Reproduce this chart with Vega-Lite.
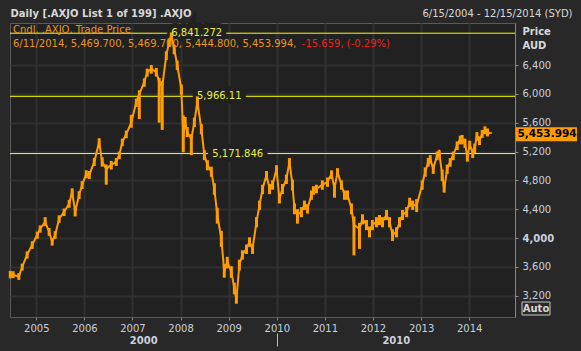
{
  "$schema": "https://vega.github.io/schema/vega-lite/v6.json",
  "width": 505,
  "height": 294,
  "autosize": {"type": "none"},
  "padding": {"left": 10, "top": 23, "right": 66, "bottom": 34},
  "background": "#282828",
  "config": {
    "view": {"fill": "#212121", "stroke": "#5a5a5a", "strokeWidth": 1},
    "font": "DejaVu Sans",
    "axis": {"labelFont": "DejaVu Sans", "labelFontSize": 10, "labelColor": "#c9d1de", "titleFont": "DejaVu Sans", "titleFontSize": 10}
  },
  "datasets": {
    "prices": [
      {"date":"2004-06-17","close":3500,"low":3440,"high":3545},
      {"date":"2004-07-09","close":3490,"low":3445,"high":3540},
      {"date":"2004-08-21","close":3464,"low":3420,"high":3515},
      {"date":"2004-09-16","close":3602,"low":3550,"high":3645},
      {"date":"2004-10-23","close":3770,"low":3715,"high":3815},
      {"date":"2004-12-01","close":3907,"low":3850,"high":3955},
      {"date":"2005-01-08","close":4045,"low":3990,"high":4090},
      {"date":"2005-01-30","close":4130,"low":4075,"high":4175},
      {"date":"2005-03-09","close":4225,"low":4165,"high":4290},
      {"date":"2005-04-08","close":4087,"low":4030,"high":4140},
      {"date":"2005-05-01","close":3949,"low":3895,"high":4000},
      {"date":"2005-05-24","close":4045,"low":3990,"high":4095},
      {"date":"2005-06-23","close":4267,"low":4210,"high":4315},
      {"date":"2005-07-31","close":4364,"low":4305,"high":4410},
      {"date":"2005-09-07","close":4475,"low":4420,"high":4530},
      {"date":"2005-09-30","close":4641,"low":4580,"high":4690},
      {"date":"2005-10-23","close":4364,"low":4300,"high":4420},
      {"date":"2005-11-22","close":4600,"low":4540,"high":4650},
      {"date":"2005-12-15","close":4738,"low":4680,"high":4790},
      {"date":"2006-01-15","close":4890,"low":4830,"high":4940},
      {"date":"2006-02-07","close":4876,"low":4820,"high":4930},
      {"date":"2006-03-17","close":5057,"low":5000,"high":5110},
      {"date":"2006-04-23","close":5333,"low":5270,"high":5385},
      {"date":"2006-05-16","close":5057,"low":4990,"high":5120},
      {"date":"2006-06-16","close":4960,"low":4740,"high":5020},
      {"date":"2006-07-24","close":5015,"low":4950,"high":5070},
      {"date":"2006-08-31","close":5057,"low":5000,"high":5110},
      {"date":"2006-09-23","close":5153,"low":5095,"high":5200},
      {"date":"2006-10-16","close":5333,"low":5275,"high":5380},
      {"date":"2006-11-15","close":5444,"low":5385,"high":5490},
      {"date":"2006-12-23","close":5600,"low":5530,"high":5710},
      {"date":"2007-01-30","close":5887,"low":5820,"high":5935},
      {"date":"2007-02-22","close":5998,"low":5650,"high":6050},
      {"date":"2007-04-01","close":6165,"low":6100,"high":6215},
      {"date":"2007-04-23","close":6303,"low":6240,"high":6350},
      {"date":"2007-05-24","close":6345,"low":6280,"high":6400},
      {"date":"2007-07-01","close":6303,"low":6240,"high":6360},
      {"date":"2007-07-23","close":6168,"low":5600,"high":6220},
      {"date":"2007-08-15","close":6100,"low":5500,"high":6180},
      {"date":"2007-09-15","close":6538,"low":6470,"high":6590},
      {"date":"2007-10-07","close":6718,"low":6650,"high":6770},
      {"date":"2007-10-23","close":6815,"low":6740,"high":6851},
      {"date":"2007-11-14","close":6622,"low":6550,"high":6680},
      {"date":"2007-12-07","close":6400,"low":6330,"high":6460},
      {"date":"2008-01-07","close":6068,"low":5990,"high":6130},
      {"date":"2008-01-22","close":5400,"low":5190,"high":5700},
      {"date":"2008-02-05","close":5610,"low":5520,"high":5680},
      {"date":"2008-02-21","close":5472,"low":5400,"high":5540},
      {"date":"2008-03-23","close":5375,"low":5150,"high":5440},
      {"date":"2008-04-15","close":5610,"low":5540,"high":5670},
      {"date":"2008-05-08","close":5887,"low":5800,"high":5966},
      {"date":"2008-06-07","close":5514,"low":5440,"high":5580},
      {"date":"2008-06-30","close":5153,"low":5080,"high":5220},
      {"date":"2008-07-23","close":5015,"low":4940,"high":5080},
      {"date":"2008-08-22","close":4918,"low":4850,"high":4990},
      {"date":"2008-09-14","close":4683,"low":4600,"high":4760},
      {"date":"2008-10-06","close":4323,"low":4200,"high":4420},
      {"date":"2008-11-06","close":3990,"low":3880,"high":4100},
      {"date":"2008-11-28","close":3533,"low":3450,"high":3640},
      {"date":"2008-12-21","close":3672,"low":3580,"high":3740},
      {"date":"2009-01-21","close":3533,"low":3450,"high":3610},
      {"date":"2009-02-13","close":3298,"low":3220,"high":3380},
      {"date":"2009-02-28","close":3150,"low":3089,"high":3250},
      {"date":"2009-03-23","close":3630,"low":3550,"high":3700},
      {"date":"2009-04-15","close":3770,"low":3700,"high":3830},
      {"date":"2009-05-16","close":3852,"low":3780,"high":3910},
      {"date":"2009-06-08","close":3949,"low":3880,"high":4010},
      {"date":"2009-07-01","close":3852,"low":3780,"high":3910},
      {"date":"2009-07-31","close":4225,"low":4150,"high":4290},
      {"date":"2009-08-23","close":4461,"low":4390,"high":4520},
      {"date":"2009-09-15","close":4683,"low":4610,"high":4740},
      {"date":"2009-10-15","close":4876,"low":4800,"high":4930},
      {"date":"2009-11-07","close":4683,"low":4610,"high":4750},
      {"date":"2009-11-30","close":4738,"low":4670,"high":4800},
      {"date":"2009-12-30","close":4960,"low":4890,"high":5010},
      {"date":"2010-01-21","close":4544,"low":4480,"high":4620},
      {"date":"2010-02-13","close":4683,"low":4610,"high":4750},
      {"date":"2010-03-15","close":4821,"low":4750,"high":4880},
      {"date":"2010-04-07","close":5057,"low":4980,"high":5110},
      {"date":"2010-04-30","close":4738,"low":4660,"high":4810},
      {"date":"2010-05-15","close":4406,"low":4330,"high":4480},
      {"date":"2010-06-07","close":4323,"low":4200,"high":4400},
      {"date":"2010-07-07","close":4364,"low":4290,"high":4430},
      {"date":"2010-07-30","close":4461,"low":4390,"high":4520},
      {"date":"2010-08-22","close":4406,"low":4340,"high":4470},
      {"date":"2010-09-21","close":4600,"low":4530,"high":4660},
      {"date":"2010-10-06","close":4669,"low":4600,"high":4720},
      {"date":"2010-10-29","close":4683,"low":4620,"high":4740},
      {"date":"2010-12-13","close":4738,"low":4670,"high":4800},
      {"date":"2011-01-21","close":4780,"low":4710,"high":4840},
      {"date":"2011-02-21","close":4890,"low":4820,"high":4940},
      {"date":"2011-03-15","close":4683,"low":4560,"high":4760},
      {"date":"2011-04-07","close":4918,"low":4850,"high":4970},
      {"date":"2011-05-07","close":4738,"low":4670,"high":4800},
      {"date":"2011-05-30","close":4600,"low":4530,"high":4660},
      {"date":"2011-06-22","close":4600,"low":4530,"high":4660},
      {"date":"2011-07-22","close":4406,"low":4330,"high":4480},
      {"date":"2011-08-10","close":4184,"low":3760,"high":4300},
      {"date":"2011-09-21","close":4129,"low":3850,"high":4210},
      {"date":"2011-10-14","close":4267,"low":4190,"high":4330},
      {"date":"2011-11-13","close":4184,"low":4110,"high":4250},
      {"date":"2011-12-06","close":4087,"low":4010,"high":4160},
      {"date":"2011-12-28","close":4184,"low":4110,"high":4250},
      {"date":"2012-01-28","close":4225,"low":4150,"high":4290},
      {"date":"2012-02-20","close":4253,"low":4180,"high":4320},
      {"date":"2012-03-14","close":4225,"low":4150,"high":4290},
      {"date":"2012-04-13","close":4323,"low":4250,"high":4390},
      {"date":"2012-05-06","close":4225,"low":4150,"high":4290},
      {"date":"2012-05-29","close":4045,"low":3960,"high":4120},
      {"date":"2012-06-28","close":4087,"low":4010,"high":4150},
      {"date":"2012-07-21","close":4225,"low":4150,"high":4290},
      {"date":"2012-08-13","close":4323,"low":4250,"high":4390},
      {"date":"2012-09-13","close":4364,"low":4290,"high":4430},
      {"date":"2012-10-06","close":4503,"low":4430,"high":4560},
      {"date":"2012-10-29","close":4461,"low":4390,"high":4520},
      {"date":"2012-11-28","close":4450,"low":4360,"high":4540},
      {"date":"2013-01-09","close":4738,"low":4670,"high":4800},
      {"date":"2013-02-01","close":4918,"low":4850,"high":4980},
      {"date":"2013-02-24","close":5057,"low":4990,"high":5110},
      {"date":"2013-03-11","close":5098,"low":5030,"high":5150},
      {"date":"2013-04-03","close":4960,"low":4890,"high":5020},
      {"date":"2013-05-03","close":5153,"low":5080,"high":5200},
      {"date":"2013-05-18","close":5195,"low":5120,"high":5220},
      {"date":"2013-06-10","close":4876,"low":4790,"high":4950},
      {"date":"2013-06-25","close":4683,"low":4630,"high":4760},
      {"date":"2013-07-18","close":4960,"low":4890,"high":5020},
      {"date":"2013-08-10","close":5057,"low":4990,"high":5110},
      {"date":"2013-09-02","close":5153,"low":5080,"high":5200},
      {"date":"2013-10-02","close":5292,"low":5220,"high":5340},
      {"date":"2013-10-25","close":5375,"low":5300,"high":5420},
      {"date":"2013-11-09","close":5375,"low":5300,"high":5430},
      {"date":"2013-11-30","close":5320,"low":5250,"high":5380},
      {"date":"2013-12-18","close":5120,"low":5060,"high":5190},
      {"date":"2014-01-05","close":5300,"low":5230,"high":5350},
      {"date":"2014-01-28","close":5180,"low":5110,"high":5240},
      {"date":"2014-02-12","close":5250,"low":5180,"high":5310},
      {"date":"2014-03-01","close":5420,"low":5350,"high":5470},
      {"date":"2014-03-20","close":5350,"low":5290,"high":5410},
      {"date":"2014-04-10","close":5450,"low":5390,"high":5500},
      {"date":"2014-05-01","close":5500,"low":5440,"high":5550},
      {"date":"2014-05-20","close":5470,"low":5410,"high":5520},
      {"date":"2014-06-11","close":5453.994,"low":5444.8,"high":5469.7}
    ],
    "levels": [
      {"level": 6841.272, "label": "6,841.272", "date": "2007-10-23"},
      {"level": 5966.11, "label": "5,966.11", "date": "2008-05-05"},
      {"level": 5171.846, "label": "5,171.846", "date": "2008-08-29"}
    ],
    "notes": [
      {"text": "Cndl, .AXJO, Trade Price", "date": "2004-06-15", "price": 6885, "kind": "legend"},
      {"text": "6/11/2014, 5,469.700, 5,469.700, 5,444.800, 5,453.994,", "date": "2004-06-15", "price": 6691, "kind": "legend"},
      {"text": "-15.659, (-0.29%)", "date": "2010-06-17", "price": 6691, "kind": "change"}
    ],
    "last": [{"price": 5453.994, "label": "5,453.994"}],
    "button": [{"label": "Auto", "price": 2905}]
  },
  "resolve": {"axis": {"x": "independent", "y": "independent"}},
  "layer": [
    {
      "data": {"name": "levels"},
      "mark": {"type": "rule", "color": "#ffff00", "strokeWidth": 1},
      "encoding": {
        "y": {"field": "level", "type": "quantitative", "scale": {"domain": [2905, 6983], "nice": false, "zero": false},
          "axis": {"orient": "right", "values": [3200, 3600, 4000, 4400, 4800, 5200, 5600, 6000, 6400], "format": ",d",
            "grid": true, "gridColor": "#303030", "gridWidth": 2, "domain": true, "domainColor": "#8a8a8a",
            "tickSize": 3, "tickColor": "#8a8a8a", "labelPadding": 4,
            "labelFontWeight": {"condition": {"test": "datum.value == 4000", "value": "bold"}, "value": "normal"},
            "title": ["Price", "AUD"], "titleAngle": 0, "titleX": 7, "titleY": 11, "titleAlign": "left",
            "titleBaseline": "alphabetic", "titleLineHeight": 14, "titleFontWeight": "bold", "titleColor": "#d8d8d8"}}
      }
    },
    {
      "data": {"name": "levels"},
      "mark": {"type": "text", "align": "left", "baseline": "middle", "fontSize": 10, "fill": "#212121", "stroke": "#212121", "strokeWidth": 10},
      "encoding": {
        "x": {"field": "date", "type": "temporal", "scale": {"type": "utc", "domain": [{"year": 2004, "month": 6, "date": 15, "utc": true}, {"year": 2014, "month": 12, "date": 15, "utc": true}]},
          "axis": {"orient": "bottom", "offset": 16, "values": [{"year": 2010, "month": 1, "date": 1, "utc": true}], "labels": false, "domain": false, "grid": false, "ticks": true, "tickSize": 13, "tickColor": "#bdbdbd", "tickWidth": 1, "title": null}},
        "y": {"field": "level", "type": "quantitative", "axis": null},
        "text": {"field": "label"}
      }
    },
    {
      "data": {"name": "prices"},
      "mark": {"type": "rule", "color": "#ff9c00", "strokeWidth": 3},
      "encoding": {
        "x": {"field": "date", "type": "temporal",
          "axis": {"orient": "bottom", "values": [
            {"year": 2005, "month": 1, "date": 1, "utc": true}, {"year": 2006, "month": 1, "date": 1, "utc": true},
            {"year": 2007, "month": 1, "date": 1, "utc": true}, {"year": 2008, "month": 1, "date": 1, "utc": true},
            {"year": 2009, "month": 1, "date": 1, "utc": true}, {"year": 2010, "month": 1, "date": 1, "utc": true},
            {"year": 2011, "month": 1, "date": 1, "utc": true}, {"year": 2012, "month": 1, "date": 1, "utc": true},
            {"year": 2013, "month": 1, "date": 1, "utc": true}, {"year": 2014, "month": 1, "date": 1, "utc": true}],
            "format": "%Y", "grid": true, "gridColor": "#303030", "gridWidth": 2, "domain": false,
            "ticks": true, "tickSize": 3, "tickColor": "#8a8a8a", "labelPadding": 3,
            "title": "Daily [.AXJO List 1 of 199] .AXJO", "titleX": 0, "titleY": -304, "titleAlign": "left",
            "titleBaseline": "middle", "titleFontWeight": "bold", "titleColor": "#d8d8d8"}},
        "y": {"field": "low", "type": "quantitative", "axis": null},
        "y2": {"field": "high"}
      }
    },
    {
      "data": {"name": "prices"},
      "mark": {"type": "line", "color": "#ff9c00", "strokeWidth": 2},
      "encoding": {
        "x": {"field": "date", "type": "temporal", "axis": null},
        "y": {"field": "close", "type": "quantitative", "axis": null}
      }
    },
    {
      "data": {"name": "levels"},
      "mark": {"type": "text", "align": "left", "baseline": "middle", "fontSize": 10, "color": "#e8f03c"},
      "encoding": {
        "x": {"field": "date", "type": "temporal", "axis": null},
        "y": {"field": "level", "type": "quantitative", "axis": null},
        "text": {"field": "label"}
      }
    },
    {
      "data": {"name": "notes"},
      "mark": {"type": "text", "align": "left", "baseline": "middle", "fontSize": 10, "dx": 3},
      "encoding": {
        "x": {"field": "date", "type": "temporal",
          "axis": {"orient": "bottom", "offset": 16, "values": [{"year": 2007, "month": 3, "date": 24, "utc": true}, {"year": 2012, "month": 6, "date": 23, "utc": true}],
            "labelExpr": "utcyear(datum.value) < 2010 ? '2000' : '2010'", "ticks": false, "domain": false, "grid": false,
            "labelFontWeight": "bold", "labelPadding": 2,
            "title": "6/15/2004 - 12/15/2014 (SYD)", "titleX": 562, "titleY": -320, "titleAlign": "right",
            "titleBaseline": "middle", "titleFontWeight": "normal", "titleColor": "#d8d8d8"}},
        "y": {"field": "price", "type": "quantitative", "axis": null},
        "text": {"field": "text"},
        "color": {"field": "kind", "type": "nominal", "scale": {"domain": ["legend", "change"], "range": ["#e8961a", "#f02020"]}, "legend": null}
      }
    },
    {
      "data": {"name": "last"},
      "mark": {"type": "rect", "color": "#ff9c00", "xOffset": 1, "x2Offset": 62, "yOffset": -6, "y2Offset": 8},
      "encoding": {
        "x": {"datum": {"year": 2014, "month": 12, "date": 15, "utc": true}, "type": "temporal", "axis": null},
        "x2": {"datum": {"year": 2014, "month": 12, "date": 15, "utc": true}},
        "y": {"field": "price", "type": "quantitative", "axis": null},
        "y2": {"field": "price"}
      }
    },
    {
      "data": {"name": "last"},
      "mark": {"type": "text", "align": "center", "baseline": "middle", "dx": 32, "dy": 1, "fontSize": 10.5, "fontWeight": "bold", "color": "#000000"},
      "encoding": {
        "x": {"datum": {"year": 2014, "month": 12, "date": 15, "utc": true}, "type": "temporal", "axis": null},
        "y": {"field": "price", "type": "quantitative", "axis": null},
        "text": {"field": "label"}
      }
    },
    {
      "data": {"name": "button"},
      "mark": {"type": "rect", "fill": "#2a2a2a", "stroke": "#c8c8c8", "strokeWidth": 1, "xOffset": 7, "x2Offset": 35, "yOffset": -15, "y2Offset": -2},
      "encoding": {
        "x": {"datum": {"year": 2014, "month": 12, "date": 15, "utc": true}, "type": "temporal", "axis": null},
        "x2": {"datum": {"year": 2014, "month": 12, "date": 15, "utc": true}},
        "y": {"field": "price", "type": "quantitative", "axis": null},
        "y2": {"field": "price"}
      }
    },
    {
      "data": {"name": "button"},
      "mark": {"type": "text", "align": "center", "baseline": "middle", "dx": 21, "dy": -8, "fontSize": 10, "fontWeight": "bold", "color": "#d8d8d8"},
      "encoding": {
        "x": {"datum": {"year": 2014, "month": 12, "date": 15, "utc": true}, "type": "temporal", "axis": null},
        "y": {"field": "price", "type": "quantitative", "axis": null},
        "text": {"field": "label"}
      }
    }
  ]
}
